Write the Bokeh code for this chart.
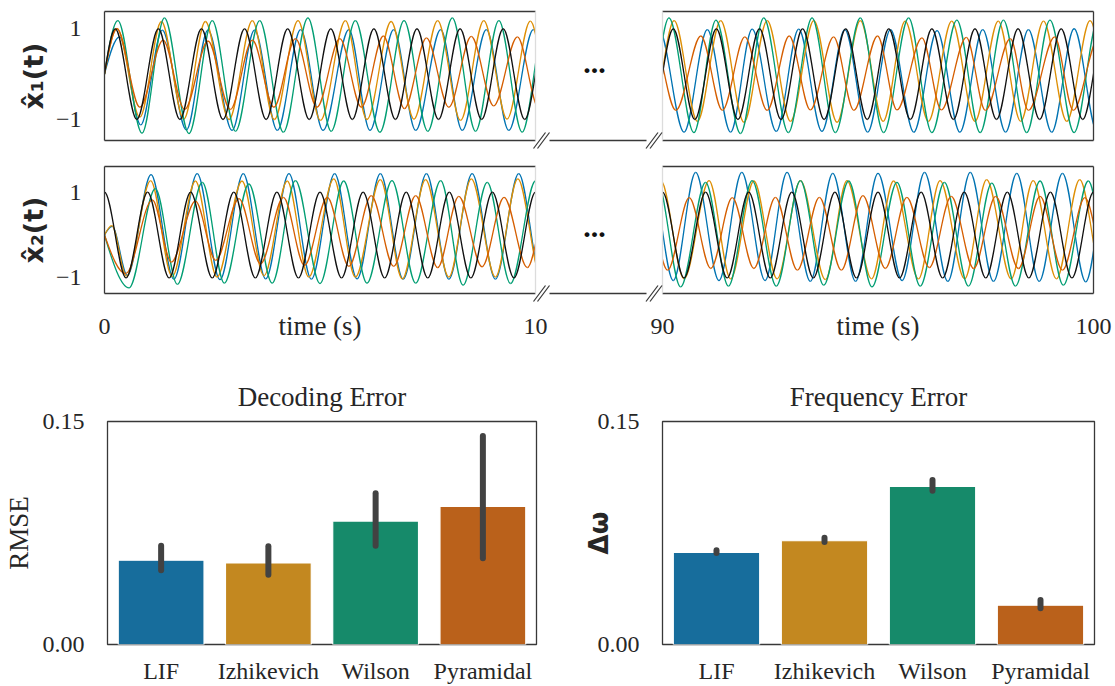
import numpy as np
from bokeh.plotting import figure
from bokeh.models import (Range1d, FixedTicker, LinearAxis, GridBox, FactorRange,
                          NumeralTickFormatter, ColumnDataSource)
from bokeh.core.properties import value
from bokeh.embed import file_html
from bokeh.resources import INLINE

# ---------------- data ----------------
MODELS = ["LIF", "Izhikevich", "Wilson", "Pyramidal"]

RMSE_MEAN = [0.0567, 0.0549, 0.0830, 0.0929]
RMSE_LO = [0.0499, 0.0470, 0.0665, 0.0580]
RMSE_HI = [0.0665, 0.0661, 0.1017, 0.1403]

DW_MEAN = [0.0619, 0.0698, 0.1063, 0.0264]
DW_LO = [0.0616, 0.0690, 0.1034, 0.0244]
DW_HI = [0.0634, 0.0718, 0.1107, 0.0299]

# decoded x1, window 0-10 s : extrema (time, value)
LIF_X1_A_T = [0.0, 0.35, 0.84, 1.34, 1.90, 2.40, 2.96, 3.48, 4.01, 4.55, 5.07, 5.67, 6.16, 6.71, 7.22, 7.80, 8.30, 8.86, 9.38, 9.95, 10.48]
LIF_X1_A_V = [0.0, 0.82, -1.12, 0.97, -1.23, 0.97, -1.24, 0.97, -1.24, 0.98, -1.24, 0.98, -1.24, 0.98, -1.24, 0.98, -1.24, 0.98, -1.24, 0.98, -1.24]
IZH_X1_A_T = [0.0, 0.29, 0.82, 1.32, 1.84, 2.34, 2.89, 3.43, 3.94, 4.49, 5.01, 5.59, 6.09, 6.65, 7.18, 7.73, 8.26, 8.80, 9.34, 9.88, 10.42]
IZH_X1_A_V = [0.0, 1.01, -0.95, 1.16, -0.99, 1.16, -1.00, 1.18, -1.00, 1.18, -1.02, 1.18, -1.00, 1.16, -0.99, 1.18, -1.02, 1.18, -0.99, 1.17, -1.00]
WIL_X1_A_T = [0.0, 0.31, 0.87, 1.39, 1.96, 2.50, 3.04, 3.60, 4.15, 4.72, 5.26, 5.82, 6.39, 6.95, 7.50, 8.07, 8.61, 9.15, 9.69, 10.23]
WIL_X1_A_V = [0.0, 1.18, -1.30, 1.24, -1.31, 1.18, -1.26, 1.18, -1.28, 1.24, -1.26, 1.18, -1.28, 1.18, -1.26, 1.24, -1.26, 1.18, -1.28, 1.20]
PYR_X1_A_T = [0.0, 0.29, 0.82, 1.36, 1.86, 2.40, 2.92, 3.43, 3.93, 4.43, 4.93, 5.46, 5.96, 6.47, 6.96, 7.47, 7.99, 8.51, 9.03, 9.58, 10.08]
PYR_X1_A_V = [0.0, 1.00, -0.73, 0.75, -0.78, 0.73, -0.78, 0.75, -0.73, 0.78, -0.73, 0.78, -0.73, 0.84, -0.76, 0.80, -0.73, 0.83, -0.70, 0.82, -0.76]
REF_X1_A_T = [0.0, 0.25, 0.75, 1.25, 1.75, 2.25, 2.75, 3.25, 3.75, 4.25, 4.75, 5.25, 5.75, 6.25, 6.75, 7.25, 7.75, 8.25, 8.75, 9.25, 9.75, 10.25]
REF_X1_A_V = [0.0, 1, -1, 1, -1, 1, -1, 1, -1, 1, -1, 1, -1, 1, -1, 1, -1, 1, -1, 1, -1, 1]

# decoded x2, window 0-10 s
LIF_X2_A_T = [0.0, 0.18, 0.53, 1.08, 1.61, 2.15, 2.68, 3.22, 3.74, 4.28, 4.80, 5.34, 5.86, 6.40, 6.93, 7.47, 7.99, 8.53, 9.07, 9.61, 10.14]
LIF_X2_A_V = [0.0, 0.20, -0.94, 1.41, -1.03, 1.43, -1.04, 1.43, -1.02, 1.43, -1.03, 1.43, -1.02, 1.43, -1.03, 1.43, -1.03, 1.43, -1.03, 1.43, -1.03]
IZH_X2_A_T = [0.0, 0.17, 0.51, 1.07, 1.57, 2.11, 2.61, 3.19, 3.70, 4.24, 4.74, 5.32, 5.82, 6.40, 6.91, 7.45, 7.99, 8.51, 9.07, 9.59, 10.13]
IZH_X2_A_V = [0.0, 0.22, -0.96, 1.27, -0.97, 1.26, -0.98, 1.26, -0.95, 1.26, -0.98, 1.31, -0.98, 1.29, -1.02, 1.29, -0.98, 1.31, -0.98, 1.31, -0.98]
WIL_X2_A_T = [0.0, 0.57, 1.18, 1.69, 2.27, 2.78, 3.35, 3.89, 4.43, 5.00, 5.55, 6.09, 6.67, 7.22, 7.80, 8.32, 8.88, 9.42, 10.00, 10.55]
WIL_X2_A_V = [0.0, -1.23, 1.08, -1.15, 1.23, -1.12, 1.19, -1.12, 1.27, -1.13, 1.26, -1.12, 1.27, -1.12, 1.27, -1.17, 1.23, -1.13, 1.26, -1.13]
PYR_X2_A_T = [0.0, 0.49, 1.11, 1.55, 2.11, 2.58, 3.12, 3.62, 4.15, 4.64, 5.17, 5.67, 6.19, 6.71, 7.22, 7.73, 8.22, 8.76, 9.27, 9.81, 10.30]
PYR_X2_A_V = [0.0, -0.90, 0.82, -0.63, 0.79, -0.59, 0.85, -0.67, 0.88, -0.71, 0.88, -0.73, 0.92, -0.73, 0.92, -0.76, 0.90, -0.74, 0.88, -0.76, 0.88]
REF_X2_A_T = [0.0, 0.5, 1.0, 1.5, 2.0, 2.5, 3.0, 3.5, 4.0, 4.5, 5.0, 5.5, 6.0, 6.5, 7.0, 7.5, 8.0, 8.5, 9.0, 9.5, 10.0, 10.5]
REF_X2_A_V = [1, -1, 1, -1, 1, -1, 1, -1, 1, -1, 1, -1, 1, -1, 1, -1, 1, -1, 1, -1, 1, -1]

# decoded x1, window 90-100 s
LIF_X1_B_T = [89.92, 90.50, 91.04, 91.58, 92.08, 92.64, 93.16, 93.70, 94.23, 94.76, 95.29, 95.83, 96.37, 96.90, 97.43, 97.96, 98.49, 99.03, 99.55, 100.09]
LIF_X1_B_V = [0.98, -1.28, 0.98, -1.28, 0.99, -1.26, 0.99, -1.26, 0.98, -1.28, 0.98, -1.28, 0.96, -1.28, 0.98, -1.28, 0.98, -1.28, 1.00, -1.28]
IZH_X1_B_T = [89.73, 90.27, 90.81, 91.35, 91.89, 92.43, 92.97, 93.51, 94.05, 94.59, 95.12, 95.63, 96.17, 96.71, 97.25, 97.79, 98.31, 98.84, 99.38, 99.92, 100.46]
IZH_X1_B_V = [-1.04, 1.18, -1.04, 1.18, -1.06, 1.18, -1.04, 1.18, -1.06, 1.18, -1.04, 1.17, -1.04, 1.17, -1.04, 1.17, -1.04, 1.17, -1.04, 1.18, -1.04]
WIL_X1_B_T = [89.61, 90.15, 90.73, 91.24, 91.81, 92.35, 92.92, 93.47, 94.01, 94.59, 95.13, 95.71, 96.25, 96.83, 97.37, 97.91, 98.45, 98.99, 99.55, 100.11]
WIL_X1_B_V = [-1.29, 1.24, -1.29, 1.19, -1.31, 1.24, -1.29, 1.24, -1.29, 1.24, -1.29, 1.24, -1.29, 1.19, -1.29, 1.19, -1.29, 1.19, -1.29, 1.20]
PYR_X1_B_T = [89.77, 90.31, 90.89, 91.39, 91.91, 92.43, 92.94, 93.43, 93.97, 94.44, 94.99, 95.44, 96.02, 96.47, 97.05, 97.49, 98.07, 98.49, 99.10, 99.53, 100.12]
PYR_X1_B_V = [0.85, -0.80, 0.84, -0.80, 0.82, -0.80, 0.84, -0.79, 0.82, -0.80, 0.84, -0.79, 0.80, -0.79, 0.81, -0.80, 0.78, -0.80, 0.82, -0.80, 0.80]
REF_X1_B_T = [89.75, 90.25, 90.75, 91.25, 91.75, 92.25, 92.75, 93.25, 93.75, 94.25, 94.75, 95.25, 95.75, 96.25, 96.75, 97.25, 97.75, 98.25, 98.75, 99.25, 99.75, 100.25]
REF_X1_B_V = [-1, 1, -1, 1, -1, 1, -1, 1, -1, 1, -1, 1, -1, 1, -1, 1, -1, 1, -1, 1, -1, 1]

# decoded x2, window 90-100 s
LIF_X2_B_T = [89.72, 90.25, 90.77, 91.31, 91.84, 92.38, 92.89, 93.43, 93.95, 94.48, 95.00, 95.56, 96.08, 96.62, 97.14, 97.68, 98.22, 98.74, 99.28, 99.82, 100.34]
LIF_X2_B_V = [1.46, -1.06, 1.46, -1.06, 1.46, -1.06, 1.46, -1.08, 1.44, -1.08, 1.44, -1.06, 1.46, -1.08, 1.46, -1.08, 1.44, -1.08, 1.44, -1.09, 1.44]
IZH_X2_B_T = [89.96, 90.50, 91.08, 91.58, 92.12, 92.66, 93.20, 93.78, 94.28, 94.85, 95.36, 95.94, 96.44, 97.01, 97.52, 98.09, 98.60, 99.14, 99.68, 100.22]
IZH_X2_B_V = [1.27, -1.02, 1.27, -1.02, 1.26, -1.02, 1.27, -1.04, 1.27, -1.02, 1.26, -1.02, 1.27, -1.02, 1.29, -1.02, 1.27, -1.02, 1.29, -1.02]
WIL_X2_B_T = [89.88, 90.42, 91.00, 91.53, 92.08, 92.64, 93.20, 93.74, 94.32, 94.86, 95.44, 95.98, 96.54, 97.10, 97.64, 98.19, 98.76, 99.30, 99.88, 100.42]
WIL_X2_B_V = [1.26, -1.21, 1.23, -1.19, 1.27, -1.19, 1.27, -1.17, 1.26, -1.21, 1.23, -1.19, 1.23, -1.19, 1.21, -1.19, 1.26, -1.17, 1.26, -1.20]
PYR_X2_B_T = [89.61, 90.12, 90.62, 91.12, 91.62, 92.12, 92.62, 93.13, 93.64, 94.15, 94.65, 95.17, 95.67, 96.19, 96.70, 97.22, 97.73, 98.26, 98.76, 99.28, 99.80, 100.30]
PYR_X2_B_V = [0.87, -0.82, 0.87, -0.78, 0.87, -0.78, 0.88, -0.82, 0.88, -0.82, 0.92, -0.78, 0.88, -0.76, 0.90, -0.78, 0.90, -0.78, 0.90, -0.82, 0.87, -0.80]
REF_X2_B_T = [89.5, 90.0, 90.5, 91.0, 91.5, 92.0, 92.5, 93.0, 93.5, 94.0, 94.5, 95.0, 95.5, 96.0, 96.5, 97.0, 97.5, 98.0, 98.5, 99.0, 99.5, 100.0, 100.5]
REF_X2_B_V = [-1, 1, -1, 1, -1, 1, -1, 1, -1, 1, -1, 1, -1, 1, -1, 1, -1, 1, -1, 1, -1, 1, -1]

WINDOW_A = [0, 10]
WINDOW_B = [90, 100]
Y_TICKS = [-1, 1]
ERR_TICKS = [0.0, 0.15]

# ---------------- styles / layout ----------------
W, H = 1115, 686
SERIF = "Liberation Serif"
TXT = "#262626"
SPINE = "#383838"
FAINT = "#dcdcdc"
LINE_COLORS = ["#0173B2", "#DE8F05", "#029E73", "#D55E00", "#111111"]
BAR_COLORS = ["#176D9C", "#C38820", "#168A6A", "#BA611B"]
TICK_SIZE = "24px"
LABEL_SIZE = "27px"

SEG_A = (104, 535)
SEG_B = (662, 1093)
ROW1 = (11, 140, (-1.463, 1.38))
ROW2 = (166, 293, (-1.363, 1.598))


def base_fig(left, right, top, bottom, x_range, y_range):
    p = figure(width=W, height=H, x_range=x_range, y_range=y_range,
               output_backend="svg", toolbar_location=None,
               min_border_left=left, min_border_right=W - right,
               min_border_top=top, min_border_bottom=H - bottom)
    p.frame_align = False
    p.background_fill_color = None
    p.border_fill_color = None
    p.outline_line_color = None
    p.xgrid.visible = False
    p.ygrid.visible = False
    return p


def style_axis(ax, ticks, line_color, labels=True):
    ax.ticker = FixedTicker(ticks=ticks)
    ax.axis_line_color = line_color
    ax.axis_line_width = 1.3
    ax.major_tick_line_color = None
    ax.minor_tick_line_color = None
    ax.major_tick_out = 0
    ax.major_tick_in = 0
    ax.major_label_text_font = SERIF
    ax.major_label_text_font_style = "normal"
    ax.major_label_text_font_size = TICK_SIZE if labels else "0px"
    ax.major_label_text_color = TXT


def bezier_data(ts, vs):
    t = np.asarray(ts, dtype=float)
    v = np.asarray(vs, dtype=float)
    x0, x1 = t[:-1], t[1:]
    y0, y1 = v[:-1], v[1:]
    dx = x1 - x0
    cy0 = y0.copy()
    if v[0] == 0:  # curve starts at a zero crossing, not at an extremum
        cy0[0] = y0[0] + 0.52 * (y1[0] - y0[0])
    return dict(x0=x0, y0=y0, x1=x1, y1=y1, cx0=x0 + dx / 3, cy0=cy0,
                cx1=x1 - dx / 3, cy1=y1.copy())


def ts_panel(seg, row, window, traces, left_spine, right_spine, bottom_ticks,
             ylabel=None, xlabel=None):
    top, bottom, yr = row
    p = base_fig(seg[0], seg[1], top, bottom, Range1d(*window), Range1d(*yr))
    for (ts, vs), color in zip(traces, LINE_COLORS):
        src = ColumnDataSource(bezier_data(ts, vs))
        p.bezier(x0="x0", y0="y0", x1="x1", y1="y1", cx0="cx0", cy0="cy0",
                 cx1="cx1", cy1="cy1", source=src, line_color=color, line_width=1.3)
    yax = p.yaxis[0]
    style_axis(yax, Y_TICKS if ylabel else [], left_spine, labels=bool(ylabel))
    yax.major_label_overrides = {-1: "\u22121", 1: "1"}
    yax.major_label_standoff = 23
    if ylabel:
        yax.axis_label = ylabel
        yax.axis_label_text_font = "DejaVu Sans"
        yax.axis_label_text_font_style = "bold"
        yax.axis_label_text_font_size = "27px"
        yax.axis_label_text_color = TXT
        yax.axis_label_standoff = 4
    xax = p.xaxis[0]
    style_axis(xax, bottom_ticks, SPINE, labels=bool(bottom_ticks))
    xax.major_label_standoff = 25
    if xlabel:
        xax.axis_label = xlabel
        xax.axis_label_text_font = SERIF
        xax.axis_label_text_font_style = "normal"
        xax.axis_label_text_font_size = LABEL_SIZE
        xax.axis_label_text_color = TXT
        xax.axis_label_standoff = -26
    top_ax = LinearAxis()
    style_axis(top_ax, [], SPINE, labels=False)
    p.add_layout(top_ax, "above")
    right_ax = LinearAxis()
    style_axis(right_ax, [], right_spine, labels=False)
    p.add_layout(right_ax, "right")
    return p


figs = []
figs.append(ts_panel(SEG_A, ROW1, WINDOW_A,
                     [(LIF_X1_A_T, LIF_X1_A_V), (IZH_X1_A_T, IZH_X1_A_V), (WIL_X1_A_T, WIL_X1_A_V),
                      (PYR_X1_A_T, PYR_X1_A_V), (REF_X1_A_T, REF_X1_A_V)],
                     SPINE, FAINT, [], ylabel="x\u0302\u2081(t)"))
figs.append(ts_panel(SEG_B, ROW1, WINDOW_B,
                     [(LIF_X1_B_T, LIF_X1_B_V), (IZH_X1_B_T, IZH_X1_B_V), (WIL_X1_B_T, WIL_X1_B_V),
                      (PYR_X1_B_T, PYR_X1_B_V), (REF_X1_B_T, REF_X1_B_V)],
                     FAINT, SPINE, []))
figs.append(ts_panel(SEG_A, ROW2, WINDOW_A,
                     [(LIF_X2_A_T, LIF_X2_A_V), (IZH_X2_A_T, IZH_X2_A_V), (WIL_X2_A_T, WIL_X2_A_V),
                      (PYR_X2_A_T, PYR_X2_A_V), (REF_X2_A_T, REF_X2_A_V)],
                     SPINE, FAINT, WINDOW_A, ylabel="x\u0302\u2082(t)", xlabel="time (s)"))
figs.append(ts_panel(SEG_B, ROW2, WINDOW_B,
                     [(LIF_X2_B_T, LIF_X2_B_V), (IZH_X2_B_T, IZH_X2_B_V), (WIL_X2_B_T, WIL_X2_B_V),
                      (PYR_X2_B_T, PYR_X2_B_V), (REF_X2_B_T, REF_X2_B_V)],
                     FAINT, SPINE, WINDOW_B, xlabel="time (s)"))


def bar_panel(left, right, title, mean, lo, hi, ylabel, ylabel_font, ylabel_style,
              ylabel_size, ylabel_standoff):
    p = base_fig(left, right, 421, 648, FactorRange(factors=MODELS), Range1d(0, 0.15))
    p.outline_line_color = SPINE
    p.outline_line_width = 1.3
    p.vbar(x=MODELS, top=mean, width=0.8, fill_color=BAR_COLORS,
           line_color="white", line_width=1.2)
    p.segment(x0=MODELS, y0=lo, x1=MODELS, y1=hi, line_color="#424242",
              line_width=6, line_cap="round")
    yax = p.yaxis[0]
    style_axis(yax, ERR_TICKS, None)
    yax.formatter = NumeralTickFormatter(format="0.00")
    yax.major_label_standoff = 23
    yax.axis_label = ylabel
    yax.axis_label_text_font = ylabel_font
    yax.axis_label_text_font_style = ylabel_style
    yax.axis_label_text_font_size = ylabel_size
    yax.axis_label_text_color = TXT
    yax.axis_label_standoff = ylabel_standoff
    xax = p.xaxis[0]
    xax.axis_line_color = None
    xax.major_tick_line_color = None
    xax.minor_tick_line_color = None
    xax.major_tick_out = 0
    xax.major_label_text_font = SERIF
    xax.major_label_text_font_style = "normal"
    xax.major_label_text_font_size = TICK_SIZE
    xax.major_label_text_color = TXT
    xax.major_label_standoff = 13
    p.title.text = title
    p.title.align = "center"
    p.title.text_font = SERIF
    p.title.text_font_size = LABEL_SIZE
    p.title.text_font_style = "normal"
    p.title.text_color = TXT
    p.title.standoff = 19
    return p


figs.append(bar_panel(104, 536, "Decoding Error", RMSE_MEAN, RMSE_LO, RMSE_HI,
                      "RMSE", SERIF, "normal", LABEL_SIZE, 6))
figs.append(bar_panel(662, 1094, "Frequency Error", DW_MEAN, DW_LO, DW_HI,
                      "\u0394\u03c9", "DejaVu Sans", "bold", "26px", -19))

# --------- broken-axis decorations (gap between the two time windows) ---------
deco = base_fig(0, W, 0, H, Range1d(0, W), Range1d(H, 0))
deco.xaxis.visible = False
deco.yaxis.visible = False
for yb in (ROW1[1], ROW2[1]):
    deco.segment(x0=[549], y0=[yb], x1=[646], y1=[yb], line_color=SPINE, line_width=1.3)
    for cx in (541, 653.5):
        deco.segment(x0=[cx - 8, cx - 4], y0=[yb + 8, yb + 8], x1=[cx + 4, cx + 8],
                     y1=[yb - 8, yb - 8], line_color=SPINE, line_width=1.2)
deco.text(x=[594, 594], y=[63, 227], text=["...", "..."], text_align="center",
          text_baseline="alphabetic", text_font=value(SERIF), text_font_style="bold",
          text_font_size="30px", text_color="#111111")
figs.append(deco)

grid = GridBox(children=[(f, 0, 0) for f in figs])
open("out.html", "w").write(file_html(grid, INLINE))
